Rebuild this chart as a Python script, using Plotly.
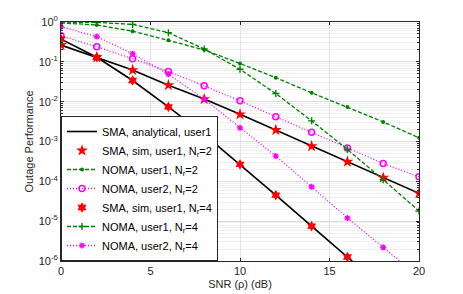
import numpy as np
import plotly.graph_objects as go

snr = [0, 2, 4, 6, 8, 10, 12, 14, 16, 18, 20]

sma_nr2 = [0.264, 0.13, 0.062, 0.026, 0.0116, 0.0048, 0.00194, 7.6e-4, 3.1e-4, 1.23e-4, 5.0e-5]
sma_nr4 = [0.37, 0.13, 0.034, 0.0074, 0.0015, 2.65e-4, 4.5e-5, 7.5e-6, 1.26e-6, 2.1e-7, 3.5e-8]
noma_u1_nr2 = [0.95, 0.84, 0.59, 0.35, 0.2, 0.091, 0.04, 0.0167, 0.0073, 0.0031, 0.00124]
noma_u2_nr2 = [0.45, 0.24, 0.12, 0.057, 0.025, 0.0105, 0.0042, 0.0017, 6.9e-4, 2.8e-4, 1.3e-4]
noma_u1_nr4 = [0.99, 0.98, 0.87, 0.54, 0.21, 0.065, 0.016, 0.0033, 6.3e-4, 1.1e-4, 1.8e-5]
noma_u2_nr4 = [0.76, 0.43, 0.16, 0.049, 0.0116, 0.0022, 4.3e-4, 7.3e-5, 1.2e-5, 2.2e-6, 4.0e-7]

y_tick_vals = [1e-6, 1e-5, 1e-4, 1e-3, 1e-2, 1e-1, 1]
y_tick_text = ["10<sup>-6</sup>", "10<sup>-5</sup>", "10<sup>-4</sup>", "10<sup>-3</sup>",
               "10<sup>-2</sup>", "10<sup>-1</sup>", "10<sup>0</sup>"]
x_tick_vals = [0, 5, 10, 15, 20]

GREEN = "#008000"
MAG = "#FF00FF"
RED = "#FF0000"

fig = go.Figure()

fig.add_trace(go.Scatter(x=snr, y=sma_nr2, mode="lines", name="SMA, analytical, user1",
                         line=dict(color="black", width=1.6)))
fig.add_trace(go.Scatter(x=snr, y=sma_nr4, mode="lines", showlegend=False,
                         line=dict(color="black", width=1.6)))
fig.add_trace(go.Scatter(x=snr, y=sma_nr2, mode="markers", name="SMA, sim, user1, N<sub>r</sub>=2",
                         marker=dict(symbol="star", size=9, color=RED, line=dict(width=0))))
fig.add_trace(go.Scatter(x=snr, y=noma_u1_nr2, mode="lines+markers", name="NOMA, user1, N<sub>r</sub>=2",
                         line=dict(color=GREEN, width=1.3, dash="4px,2px"),
                         marker=dict(symbol="circle", size=4, color=GREEN)))
fig.add_trace(go.Scatter(x=snr, y=noma_u2_nr2, mode="lines+markers", name="NOMA, user2, N<sub>r</sub>=2",
                         line=dict(color=MAG, width=1.3, dash="1px,2px"),
                         marker=dict(symbol="circle-open", size=6, color=MAG, line=dict(width=1.5))))
fig.add_trace(go.Scatter(x=snr, y=sma_nr4, mode="markers", name="SMA, sim, user1, N<sub>r</sub>=4",
                         marker=dict(symbol="hexagram", size=8, color=RED, line=dict(width=0))))
fig.add_trace(go.Scatter(x=snr, y=noma_u1_nr4, mode="lines+markers", name="NOMA, user1, N<sub>r</sub>=4",
                         line=dict(color=GREEN, width=1.3, dash="4px,2px"),
                         marker=dict(symbol="cross-thin", size=5, color=GREEN, line=dict(width=1.4, color=GREEN))))
fig.add_trace(go.Scatter(x=snr, y=noma_u2_nr4, mode="lines+markers", name="NOMA, user2, N<sub>r</sub>=4",
                         line=dict(color=MAG, width=1.3, dash="1px,2px"),
                         marker=dict(symbol="asterisk", size=5, color=MAG, line=dict(width=1.4, color=MAG))))

minor_vals = [k * 10.0 ** e for e in range(-6, 0) for k in range(2, 10)]

# the page body adds an 8px offset; figure sized so plot area lands where the reference has it
fig.update_layout(
    width=455, height=286,
    margin=dict(l=53, r=44, t=14, b=33, autoexpand=False),
    paper_bgcolor="white", plot_bgcolor="white",
    font=dict(family="Liberation Sans, Arial, sans-serif", size=11, color="#262626"),
    showlegend=True,
    legend=dict(x=0, y=0, xanchor="left", yanchor="bottom",
                bgcolor="white", bordercolor="#262626", borderwidth=1,
                font=dict(size=11, color="black"), tracegroupgap=0, itemwidth=30,
                itemsizing="trace"),
    xaxis=dict(range=[0, 20], tickvals=x_tick_vals, showline=True, mirror="ticks",
               linecolor="#262626", linewidth=1, ticks="inside", ticklen=3,
               tickcolor="#262626", showgrid=True, gridcolor="#e3e3e3", zeroline=False,
               automargin=False,
               title=dict(text="SNR (\u03c1) (dB)", font=dict(size=11), standoff=4),
               tickfont=dict(size=11)),
    yaxis=dict(type="log", range=[-6, 0], tickvals=y_tick_vals, ticktext=y_tick_text,
               showline=True, mirror="ticks", linecolor="#262626", linewidth=1,
               ticks="inside", ticklen=3, tickcolor="#262626", automargin=False,
               showgrid=True, gridcolor="#dcdcdc", zeroline=False,
               minor=dict(tickvals=minor_vals, showgrid=True, gridcolor="#efefef",
                          ticks="inside", ticklen=2, tickcolor="#262626"),
               title=dict(text="Outage Performance", font=dict(size=11), standoff=2),
               tickfont=dict(size=11)),
)

fig.write_html("out.html")
